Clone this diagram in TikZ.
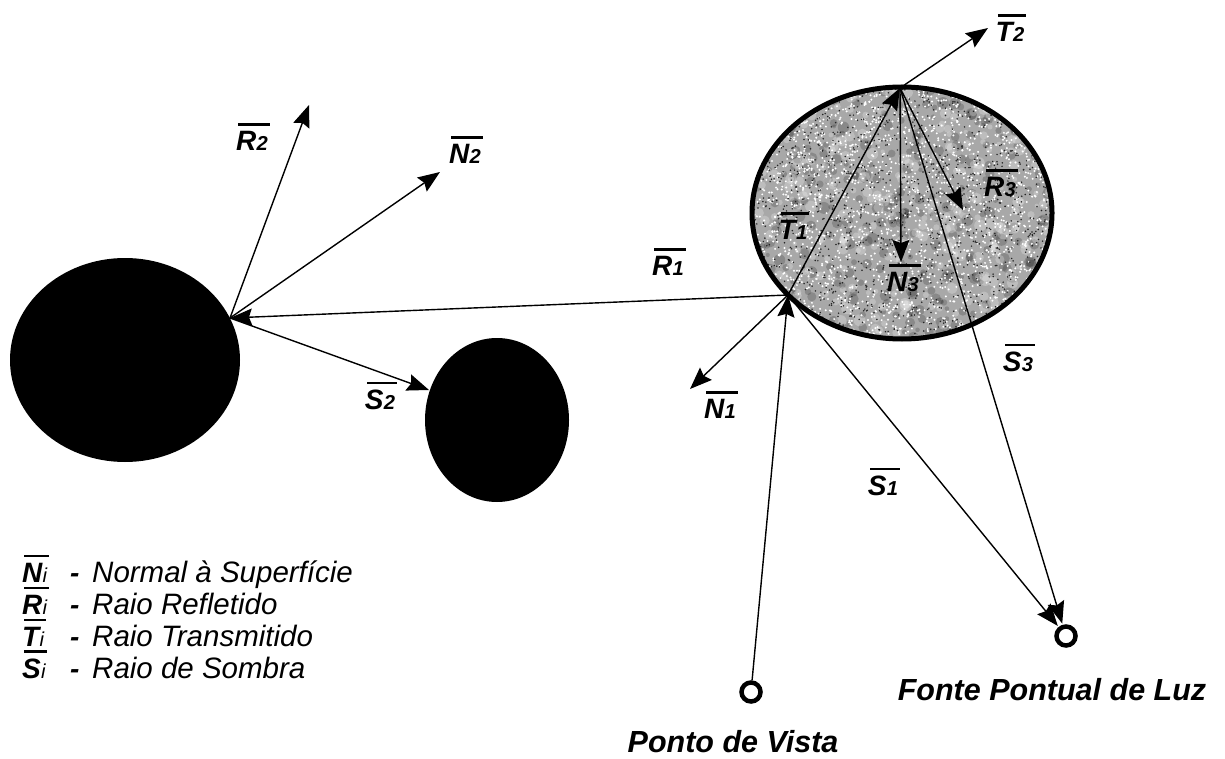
\documentclass[tikz,border=0pt]{standalone}
\usepackage{fontspec}
\setmainfont{Liberation Sans}
\usepackage{graphicx}
\usetikzlibrary{arrows.meta}

% vector symbol: bold letter, smaller index, bar over both
\newcommand\vsym[2]{%
  \setbox0\hbox{#1\kern0.01em\scalebox{0.72}{#2}}%
  \rlap{\kern0.08em\rule[\dimexpr\ht0+0.2em\relax]{\dimexpr\wd0-0.02em\relax}{0.085em}}\box0}

\begin{document}
\begin{tikzpicture}[x=1pt,y=-1pt,
  ray/.style={line width=1.4pt,-{Stealth[length=22pt,width=17pt,inset=3pt]}},
  lab/.style={font=\fontsize{28}{28}\selectfont\bfseries\itshape,inner sep=0pt},
  caption/.style={font=\fontsize{30.5}{30.5}\selectfont\bfseries\itshape,inner sep=0pt},
  leg/.style={font=\fontsize{29.5}{29.5}\selectfont\itshape,inner sep=0pt,anchor=base west},
  legs/.style={font=\fontsize{28}{28}\selectfont\bfseries\itshape,inner sep=0pt,anchor=base west},
  pt/.style={circle,draw,line width=4.5pt,minimum size=19pt,inner sep=0pt}]
\useasboundingbox (0,0) rectangle (1225,759);

% opaque spheres
\fill (125,360) ellipse [x radius=115,y radius=102];
\fill (497,420) ellipse [x radius=72,y radius=82];

% translucent sphere with mottled surface
\begin{scope}
  \clip (902,213) ellipse [x radius=150,y radius=126];
  \fill[black!34] (750,85) rectangle (1054,341);
  \pgfmathsetseed{17}
  \foreach \i in {1,...,350}{\fill[black,opacity=0.18] ({750+304*rnd},{85+256*rnd}) circle ({2+4*rnd});}
  \foreach \i in {1,...,350}{\fill[white,opacity=0.25] ({750+304*rnd},{85+256*rnd}) circle ({2+4*rnd});}
  \foreach \i in {1,...,2400}{\fill[white] ({750+304*rnd},{85+256*rnd}) circle (1.1);}
  \foreach \i in {1,...,1500}{\fill[black!85] ({750+304*rnd},{85+256*rnd}) circle (0.85);}
\end{scope}
\draw[line width=5pt] (902,213) ellipse [x radius=150,y radius=126];

% intersection points and ray ends
\coordinate (p1) at (788,295);
\coordinate (p2) at (230,318);
\coordinate (p3) at (900,88);
\coordinate (r2) at (309,105);
\coordinate (n2) at (440,172);
\coordinate (s2) at (429,390);
\coordinate (n1) at (690,389);
\coordinate (t2) at (988,28);
\coordinate (r3) at (963,210);
\coordinate (n3) at (901,262);

\node[pt] (eye) at (751,692) {};
\node[pt] (light) at (1066,636) {};

% rays
\draw[ray] (eye) -- (p1);
\draw[ray] (p1) -- (p2);
\draw[ray] (p1) -- (n1);
\draw[ray] (p1) -- (p3);
\draw[ray,shorten >=13pt] (p1) -- (light.center);
\draw[ray] (p2) -- (r2);
\draw[ray] (p2) -- (n2);
\draw[ray] (p2) -- (s2);
\draw[ray] (p3) -- (t2);
\draw[ray] (p3) -- (r3);
\draw[ray] (p3) -- (n3);
\draw[ray,shorten >=13pt] (p3) -- (light.center);

% ray labels
\node[lab] (lR2) at (252,137) {\vsym{R}{2}};
\node[lab] (lN2) at (465,150) {\vsym{N}{2}};
\node[lab] (lR1) at (668,262) {\vsym{R}{1}};
\node[lab] (lS2) at (380,396) {\vsym{S}{2}};
\node[lab] (lN1) at (720,405) {\vsym{N}{1}};
\node[lab] (lT1) at (793,226) {\vsym{T}{1}};
\node[lab] (lN3) at (903,278) {\vsym{N}{3}};
\node[lab] (lR3) at (1000,183) {\vsym{R}{3}};
\node[lab] (lT2) at (1010,28) {\vsym{T}{2}};
\node[lab] (lS3) at (1018,358) {\vsym{S}{3}};
\node[lab] (lS1) at (883,482) {\vsym{S}{1}};

\node[caption] (lEye) at (733,742) {Ponto de Vista};
\node[caption] (lLight) at (1052,690) {Fonte Pontual de Luz};

% legend
\node[legs] (kN) at (22,582) {\vsym{N}{\mdseries i}};
\node[legs] (kR) at (22,614) {\vsym{R}{\mdseries i}};
\node[legs] (kT) at (22,646) {\vsym{T}{\mdseries i}};
\node[legs] (kS) at (22,678) {\vsym{S}{\mdseries i}};
\node[legs] (dN) at (70,582) {-};
\node[legs] (dR) at (70,614) {-};
\node[legs] (dT) at (70,646) {-};
\node[legs] (dS) at (70,678) {-};
\node[leg] (tN) at (92,582) {Normal à Superfície};
\node[leg] (tR) at (92,614) {Raio Refletido};
\node[leg] (tT) at (92,646) {Raio Transmitido};
\node[leg] (tS) at (92,678) {Raio de Sombra};
\end{tikzpicture}
\end{document}
